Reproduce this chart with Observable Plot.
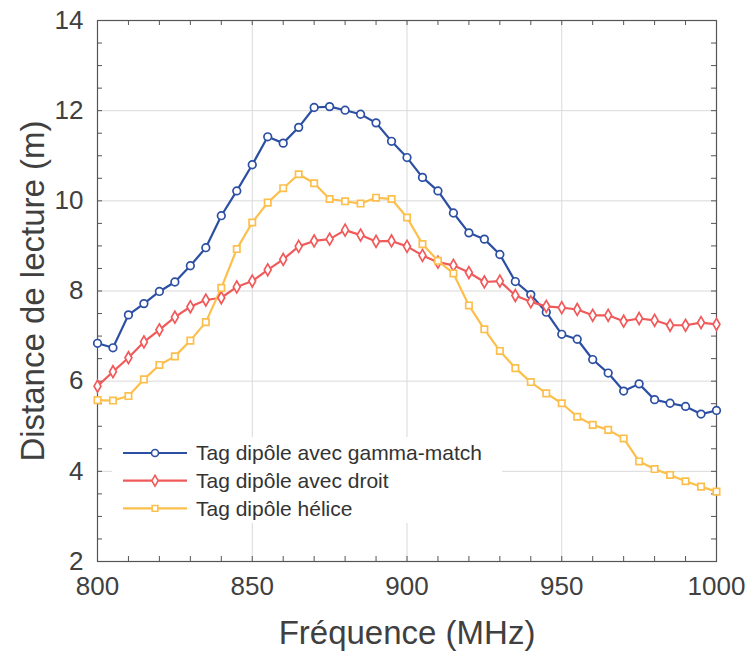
<!DOCTYPE html>
<html>
<head>
<meta charset="utf-8">
<script src="https://cdn.jsdelivr.net/npm/d3@7"></script>
<script src="https://cdn.jsdelivr.net/npm/@observablehq/plot@0.6"></script>
<style>
  html, body { margin: 0; padding: 0; background: #fff; }
  #chart { width: 753px; height: 652px; }
</style>
</head>
<body>
<div id="chart"></div>
<script>
const freq = [800,805,810,815,820,825,830,835,840,845,850,855,860,865,870,875,880,885,890,895,900,905,910,915,920,925,930,935,940,945,950,955,960,965,970,975,980,985,990,995,1000];
const gammaMatch = [6.84,6.74,7.47,7.72,7.99,8.20,8.56,8.96,9.67,10.22,10.80,11.42,11.28,11.63,12.07,12.09,12.01,11.92,11.73,11.32,10.96,10.52,10.22,9.73,9.29,9.15,8.81,8.21,7.92,7.53,7.04,6.93,6.48,6.18,5.78,5.94,5.59,5.51,5.44,5.27,5.35];
const droit = [5.89,6.21,6.52,6.87,7.14,7.42,7.65,7.80,7.85,8.09,8.22,8.47,8.70,8.99,9.11,9.15,9.35,9.24,9.10,9.11,8.99,8.79,8.64,8.57,8.41,8.20,8.22,7.90,7.76,7.66,7.63,7.59,7.46,7.46,7.33,7.39,7.35,7.24,7.24,7.30,7.26];
const helice = [5.58,5.57,5.67,6.04,6.36,6.55,6.90,7.31,8.07,8.93,9.52,9.96,10.28,10.59,10.39,10.04,9.99,9.94,10.07,10.04,9.63,9.04,8.67,8.39,7.68,7.15,6.67,6.29,5.98,5.73,5.51,5.21,5.03,4.92,4.73,4.22,4.05,3.92,3.78,3.66,3.55];

const seriesNames = ["Tag dipôle avec gamma-match", "Tag dipôle avec droit", "Tag dipôle hélice"];
const seriesColors = ["#2c4fa3", "#f05a5a", "#fdbf4c"];
const seriesSymbols = ["circle", "diamond", "square"];
const seriesValues = [gammaMatch, droit, helice];

const xMajor = [800, 850, 900, 950, 1000];
const xMinor = [800,810,820,830,840,850,860,870,880,890,900,910,920,930,940,950,960,970,980,990,1000];
const yMajor = [2, 4, 6, 8, 10, 12, 14];
const yMinor = [2,2.5,3,3.5,4,4.5,5,5.5,6,6.5,7,7.5,8,8.5,9,9.5,10,10.5,11,11.5,12,12.5,13,13.5,14];

const rows = [];
seriesValues.forEach((vals, i) => vals.forEach((v, j) => rows.push({f: freq[j], d: v, s: seriesNames[i]})));

const W = 753, H = 652, mL = 97, mR = 37, mT = 20, mB = 91;
const innerW = W - mL - mR, innerH = H - mT - mB;
const tickLen = 5;

const marks = [
  Plot.ruleX(xMajor.slice(1, -1), {x: d => d, stroke: "#d9d9d9", strokeWidth: 1}),
  Plot.ruleY(yMajor.slice(1, -1), {y: d => d, stroke: "#d9d9d9", strokeWidth: 1}),
  // inward ticks
  Plot.ruleX(xMinor, {x: d => d, insetTop: innerH - tickLen, stroke: "#555"}),
  Plot.ruleX(xMinor, {x: d => d, insetBottom: innerH - tickLen, stroke: "#555"}),
  Plot.ruleY(yMinor, {y: d => d, insetRight: innerW - tickLen, stroke: "#555"}),
  Plot.ruleY(yMinor, {y: d => d, insetLeft: innerW - tickLen, stroke: "#555"}),
  Plot.frame({stroke: "#555", strokeWidth: 1.2}),
  Plot.axisX({ticks: xMajor, tickSize: 0, tickPadding: 15, fontSize: 26, label: null, tickFormat: d => String(d)}),
  Plot.axisY({ticks: yMajor, tickSize: 0, tickPadding: 14, fontSize: 26, label: null, tickFormat: d => String(d)}),
  Plot.text(["Fréquence (MHz)"], {frameAnchor: "bottom", textAnchor: "middle", lineAnchor: "middle", dy: 72, fontSize: 33, fill: "#404040"}),
  Plot.text(["Distance de lecture (m)"], {frameAnchor: "left", textAnchor: "middle", lineAnchor: "middle", rotate: -90, dx: -64, fontSize: 33, fill: "#404040"})
];
seriesNames.forEach((name, i) => {
  const data = rows.filter(r => r.s === name);
  marks.push(Plot.line(data, {x: "f", y: "d", stroke: seriesColors[i], strokeWidth: 2.2}));
});
seriesNames.forEach((name, i) => {
  const data = rows.filter(r => r.s === name);
  marks.push(Plot.dot(data, {x: "f", y: "d", stroke: seriesColors[i], fill: "white", symbol: seriesSymbols[i], r: i === 0 ? 3.8 : 3.6, strokeWidth: 1.7}));
});

const chart = Plot.plot({
  width: W, height: H,
  marginLeft: mL, marginRight: mR, marginTop: mT, marginBottom: mB,
  x: {domain: [800, 1000]},
  y: {domain: [2, 14]},
  style: {fontFamily: "'Liberation Sans', Arial, Helvetica, sans-serif", color: "#404040", background: "white", overflow: "visible"},
  marks
});
document.getElementById("chart").appendChild(chart);

// Legend inside the plot area (lower left)
const svg = d3.select(chart);
const lg = svg.append("g").attr("font-family", "'Liberation Sans', Arial, sans-serif").attr("text-anchor", "start");
lg.append("rect").attr("x", 112).attr("y", 437).attr("width", 390).attr("height", 86).attr("fill", "white");
const sym = {circle: d3.symbolCircle, diamond: d3.symbolDiamond, square: d3.symbolSquare};
seriesNames.forEach((name, i) => {
  const yy = 453 + i * 27.7;
  lg.append("line").attr("x1", 123).attr("x2", 187).attr("y1", yy).attr("y2", yy)
    .attr("stroke", seriesColors[i]).attr("stroke-width", 2.2);
  const size = i === 0 ? Math.PI * 3.5 * 3.5 : (i === 1 ? 34 : 32);
  lg.append("path").attr("d", d3.symbol(sym[seriesSymbols[i]], size)())
    .attr("transform", `translate(155,${yy})`)
    .attr("fill", "white").attr("stroke", seriesColors[i]).attr("stroke-width", 1.6);
  lg.append("text").attr("x", 196).attr("y", yy).attr("dy", "0.35em").attr("text-anchor", "start")
    .attr("font-size", 21).attr("fill", "#333").text(name);
});
</script>
</body>
</html>
